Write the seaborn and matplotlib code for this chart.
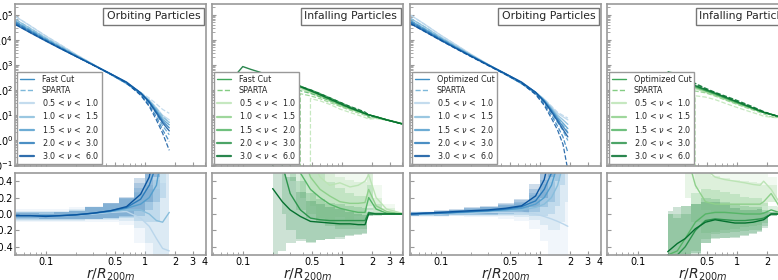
import numpy as np
import matplotlib
matplotlib.use("Agg")
import matplotlib.pyplot as plt
import seaborn as sns
from matplotlib.lines import Line2D
from matplotlib.ticker import NullFormatter, FixedLocator, FixedFormatter

nan = np.nan
inf = np.inf

nu_labels = ["0.5 < $\\nu$ <  1.0", "1.0 < $\\nu$ <  1.5", "1.5 < $\\nu$ <  2.0",
             "2.0 < $\\nu$ <  3.0", "3.0 < $\\nu$ <  6.0"]

# ---- orbiting, fast cut (log10 density, ratio fast/sparta - 1, scatter)
r_orb_fast = [0.05, 0.07, 0.1, 0.14, 0.2, 0.3, 0.45, 0.65, 0.9, 1.1, 1.3, 1.5, 1.75]
fast_orb_logrho = [
    [4.92, 4.55, 4.15, 3.80, 3.42, 3.02, 2.62, 2.25, 1.88, 1.60, 1.28, 0.98, 0.80],
    [4.80, 4.45, 4.07, 3.74, 3.39, 3.01, 2.63, 2.27, 1.88, 1.57, 1.22, 0.90, 0.70],
    [4.72, 4.38, 4.02, 3.70, 3.37, 3.00, 2.63, 2.28, 1.88, 1.55, 1.17, 0.82, 0.60],
    [4.66, 4.33, 3.98, 3.67, 3.35, 3.00, 2.64, 2.30, 1.88, 1.52, 1.12, 0.75, 0.48],
    [4.60, 4.28, 3.95, 3.65, 3.34, 2.99, 2.64, 2.31, 1.88, 1.50, 1.07, 0.68, 0.36],
]
fast_orb_ratio = [
    [-0.02, -0.02, -0.02, -0.02, -0.01, 0.00, 0.02, 0.03, -0.05, -0.15, -0.30, -0.42, -0.45],
    [-0.02, -0.02, -0.02, -0.02, -0.01, 0.005, 0.03, 0.05, 0.05, 0.00, -0.08, -0.10, 0.02],
    [-0.02, -0.02, -0.02, -0.02, -0.01, 0.01, 0.03, 0.07, 0.12, 0.20, 0.35, 0.80, 1.50],
    [-0.02, -0.02, -0.02, -0.02, -0.01, 0.01, 0.04, 0.08, 0.18, 0.35, 0.60, 1.20, 2.50],
    [-0.02, -0.02, -0.03, -0.02, -0.01, 0.01, 0.04, 0.09, 0.24, 0.45, 0.90, 1.60, 5.00],
]
fast_orb_spread = [
    [0.08, 0.08, 0.08, 0.08, 0.09, 0.10, 0.12, 0.16, 0.30, 0.45, 0.60, 0.80, 1.00],
    [0.06, 0.06, 0.06, 0.06, 0.07, 0.08, 0.10, 0.13, 0.22, 0.35, 0.50, 0.70, 0.90],
    [0.05, 0.05, 0.05, 0.05, 0.06, 0.07, 0.09, 0.12, 0.20, 0.30, 0.45, 0.60, 0.80],
    [0.04, 0.04, 0.04, 0.04, 0.05, 0.07, 0.09, 0.12, 0.20, 0.30, 0.45, 0.60, 0.80],
    [0.03, 0.03, 0.03, 0.04, 0.05, 0.07, 0.09, 0.12, 0.20, 0.30, 0.45, 0.60, 0.80],
]

# ---- orbiting, optimized cut
r_orb_opt = [0.05, 0.07, 0.1, 0.14, 0.2, 0.3, 0.45, 0.65, 0.9, 1.1, 1.3, 1.5, 1.7, 1.9]
opt_orb_logrho = [
    [4.98, 4.60, 4.18, 3.82, 3.43, 3.02, 2.62, 2.25, 1.90, 1.62, 1.32, 1.06, 0.92, 0.80],
    [4.85, 4.50, 4.10, 3.76, 3.40, 3.01, 2.63, 2.27, 1.90, 1.60, 1.27, 0.98, 0.80, 0.62],
    [4.76, 4.42, 4.05, 3.72, 3.38, 3.00, 2.63, 2.28, 1.90, 1.58, 1.22, 0.90, 0.67, 0.45],
    [4.70, 4.37, 4.01, 3.69, 3.36, 3.00, 2.64, 2.30, 1.90, 1.55, 1.17, 0.82, 0.53, 0.28],
    [4.64, 4.32, 3.98, 3.67, 3.35, 2.99, 2.64, 2.31, 1.90, 1.53, 1.12, 0.75, 0.42, 0.12],
]
opt_orb_ratio = [
    [0.00, 0.00, 0.00, 0.01, 0.01, 0.02, 0.02, 0.02, 0.00, -0.03, -0.06, -0.09, -0.12, -0.15],
    [0.00, 0.00, 0.01, 0.01, 0.02, 0.03, 0.04, 0.05, 0.08, 0.12, 0.20, 0.35, 0.60, 1.00],
    [0.00, 0.00, 0.01, 0.02, 0.03, 0.04, 0.05, 0.07, 0.12, 0.20, 0.35, 0.60, 1.00, 2.00],
    [0.00, 0.01, 0.01, 0.02, 0.03, 0.04, 0.06, 0.09, 0.16, 0.30, 0.50, 0.90, 1.60, 5.00],
    [0.00, 0.01, 0.02, 0.03, 0.04, 0.05, 0.07, 0.10, 0.22, 0.42, 0.80, 1.30, 3.00, 20.0],
]
opt_orb_spread = [
    [0.04, 0.04, 0.04, 0.04, 0.05, 0.06, 0.08, 0.10, 0.18, 0.30, 0.45, 0.60, 0.75, 0.90],
    [0.03, 0.03, 0.03, 0.04, 0.04, 0.05, 0.07, 0.09, 0.15, 0.25, 0.40, 0.55, 0.70, 0.85],
    [0.03, 0.03, 0.03, 0.03, 0.04, 0.05, 0.06, 0.08, 0.14, 0.22, 0.35, 0.50, 0.65, 0.80],
    [0.02, 0.02, 0.03, 0.03, 0.04, 0.05, 0.06, 0.08, 0.14, 0.22, 0.35, 0.50, 0.65, 0.80],
    [0.02, 0.02, 0.03, 0.03, 0.04, 0.05, 0.06, 0.08, 0.14, 0.22, 0.35, 0.50, 0.65, 0.80],
]

# ---- infalling (inf ratio = no SPARTA particles in that bin)
r_inf = [0.085, 0.1, 0.12, 0.15, 0.2, 0.25, 0.3, 0.38, 0.48, 0.6, 0.75, 0.95,
         1.2, 1.45, 1.7, 1.85, 2.2, 2.8, 4.0]
fast_inf_logrho = [
    [nan, nan, nan, nan, nan, 2.55, 2.25, 2.05, 1.88, 1.72, 1.55, 1.37, 1.22, 1.12, 1.04, 1.00, 0.93, 0.81, 0.66],
    [nan, nan, nan, nan, nan, 2.50, 2.28, 2.10, 1.92, 1.76, 1.58, 1.40, 1.24, 1.13, 1.04, 1.00, 0.92, 0.80, 0.65],
    [nan, nan, nan, nan, nan, 2.45, 2.30, 2.14, 1.97, 1.80, 1.62, 1.44, 1.27, 1.15, 1.05, 1.00, 0.92, 0.80, 0.64],
    [nan, nan, nan, nan, 2.50, 2.42, 2.30, 2.15, 1.98, 1.82, 1.65, 1.47, 1.29, 1.16, 1.05, 1.00, 0.92, 0.80, 0.64],
    [2.60, 2.93, 2.82, 2.70, 2.52, 2.40, 2.27, 2.12, 1.96, 1.80, 1.63, 1.45, 1.28, 1.16, 1.05, 1.00, 0.92, 0.80, 0.64],
]
fast_inf_ratio = [
    [nan, nan, nan, nan, nan, inf, inf, inf, 0.70, 0.45, 0.35, 0.38, 0.33, 0.35, 0.40, 0.48, 0.20, 0.06, 0.01],
    [nan, nan, nan, nan, nan, inf, inf, 0.80, 0.45, 0.30, 0.22, 0.15, 0.13, 0.13, 0.14, 0.30, 0.10, 0.03, 0.00],
    [nan, nan, nan, nan, nan, inf, 1.00, 0.50, 0.30, 0.20, 0.12, 0.07, 0.04, 0.02, 0.02, 0.20, 0.06, 0.01, 0.00],
    [nan, nan, nan, nan, inf, 0.60, 0.25, 0.05, -0.05, -0.07, -0.08, -0.08, -0.08, -0.08, -0.08, 0.02, 0.00, 0.00, 0.00],
    [inf, inf, inf, inf, 0.31, 0.15, 0.05, -0.03, -0.09, -0.10, -0.11, -0.12, -0.12, -0.13, -0.13, 0.00, 0.00, 0.00, 0.00],
]
fast_inf_spread = [
    [nan, nan, nan, nan, nan, nan, nan, nan, 0.60, 0.50, 0.45, 0.42, 0.40, 0.38, 0.36, 0.30, 0.15, 0.06, 0.02],
    [nan, nan, nan, nan, nan, nan, nan, 0.60, 0.45, 0.38, 0.33, 0.30, 0.28, 0.26, 0.25, 0.20, 0.10, 0.04, 0.00],
    [nan, nan, nan, nan, nan, nan, 0.60, 0.45, 0.35, 0.30, 0.27, 0.25, 0.22, 0.20, 0.20, 0.15, 0.06, 0.02, 0.00],
    [nan, nan, nan, nan, nan, 0.60, 0.45, 0.35, 0.30, 0.25, 0.22, 0.20, 0.18, 0.16, 0.15, 0.05, 0.02, 0.00, 0.00],
    [nan, nan, nan, nan, 0.80, 0.60, 0.40, 0.30, 0.25, 0.22, 0.20, 0.18, 0.15, 0.13, 0.12, 0.02, 0.00, 0.00, 0.00],
]

opt_inf_logrho = [
    [nan, nan, nan, nan, nan, 2.20, 2.15, 2.04, 1.90, 1.77, 1.62, 1.47, 1.33, 1.22, 1.13, 1.09, 1.02, 0.90, 0.73],
    [nan, nan, nan, nan, nan, 2.30, 2.20, 2.08, 1.94, 1.80, 1.65, 1.50, 1.35, 1.24, 1.14, 1.10, 1.02, 0.90, 0.72],
    [nan, nan, nan, nan, 2.38, 2.32, 2.24, 2.11, 1.97, 1.83, 1.68, 1.52, 1.37, 1.25, 1.15, 1.10, 1.02, 0.90, 0.72],
    [nan, nan, nan, nan, 2.42, 2.35, 2.27, 2.14, 1.99, 1.85, 1.70, 1.54, 1.38, 1.26, 1.15, 1.10, 1.02, 0.90, 0.72],
    [nan, nan, nan, nan, 2.45, 2.38, 2.30, 2.17, 2.02, 1.87, 1.72, 1.56, 1.40, 1.27, 1.16, 1.10, 1.02, 0.90, 0.72],
]
opt_inf_ratio = [
    [nan, nan, nan, nan, nan, inf, inf, 0.90, 0.55, 0.45, 0.42, 0.40, 0.38, 0.36, 0.35, 0.40, 0.30, 0.10, 0.03],
    [nan, nan, nan, nan, nan, inf, 0.80, 0.35, 0.15, 0.12, 0.12, 0.12, 0.12, 0.12, 0.12, 0.15, 0.25, 0.05, 0.00],
    [nan, nan, nan, nan, -0.50, -0.45, -0.30, -0.10, 0.00, 0.02, 0.02, 0.01, 0.00, 0.00, 0.00, 0.01, 0.05, 0.01, 0.00],
    [nan, nan, nan, nan, -0.50, -0.50, -0.40, -0.20, -0.08, -0.06, -0.07, -0.08, -0.08, -0.07, -0.06, -0.05, 0.00, 0.00, 0.00],
    [nan, nan, nan, nan, -0.46, -0.36, -0.30, -0.18, -0.10, -0.07, -0.09, -0.11, -0.11, -0.10, -0.08, -0.07, 0.00, 0.00, 0.00],
]
opt_inf_spread = [
    [nan, nan, nan, nan, nan, nan, nan, 0.60, 0.50, 0.45, 0.42, 0.40, 0.38, 0.36, 0.35, 0.30, 0.15, 0.06, 0.02],
    [nan, nan, nan, nan, nan, nan, 0.60, 0.45, 0.38, 0.34, 0.32, 0.30, 0.28, 0.27, 0.26, 0.20, 0.10, 0.03, 0.00],
    [nan, nan, nan, nan, 0.50, 0.45, 0.40, 0.35, 0.30, 0.27, 0.25, 0.23, 0.21, 0.20, 0.19, 0.12, 0.05, 0.01, 0.00],
    [nan, nan, nan, nan, 0.50, 0.45, 0.40, 0.32, 0.27, 0.24, 0.22, 0.20, 0.18, 0.16, 0.15, 0.10, 0.03, 0.00, 0.00],
    [nan, nan, nan, nan, 0.50, 0.45, 0.40, 0.30, 0.25, 0.22, 0.20, 0.18, 0.16, 0.15, 0.14, 0.10, 0.02, 0.00, 0.00],
]

panels = [
    ("Orbiting Particles", "Fast Cut", "Blues", r_orb_fast, fast_orb_logrho, fast_orb_ratio, fast_orb_spread),
    ("Infalling Particles", "Fast Cut", "Greens", r_inf, fast_inf_logrho, fast_inf_ratio, fast_inf_spread),
    ("Orbiting Particles", "Optimized Cut", "Blues", r_orb_opt, opt_orb_logrho, opt_orb_ratio, opt_orb_spread),
    ("Infalling Particles", "Optimized Cut", "Greens", r_inf, opt_inf_logrho, opt_inf_ratio, opt_inf_spread),
]

sns.set_style("ticks")
plt.rcParams["font.family"] = ["DejaVu Sans"]
plt.rcParams["xtick.direction"] = "in"
plt.rcParams["ytick.direction"] = "in"
plt.rcParams["axes.edgecolor"] = "#999999"
plt.rcParams["axes.linewidth"] = 1.2
plt.rcParams["xtick.color"] = "#999999"
plt.rcParams["ytick.color"] = "#999999"
plt.rcParams["xtick.labelcolor"] = "black"
plt.rcParams["ytick.labelcolor"] = "black"

W, H = 778, 280
fig = plt.figure(figsize=(W / 100, H / 100), dpi=100)
lefts = [15, 212, 410, 607]
pw = 191

for i, (title, cut, cmap, r, logrho, ratio, spread) in enumerate(panels):
    ax_t = fig.add_axes([lefts[i] / W, 1 - 166 / H, pw / W, 162 / H])
    ax_b = fig.add_axes([lefts[i] / W, 1 - 255 / H, pw / W, 82 / H])
    cols = sns.color_palette(cmap, 6)[1:]
    main_col = sns.color_palette(cmap, 10)[6]
    spa_col = sns.color_palette(cmap, 10)[4]
    r = np.array(r)

    for k in range(5):
        rho = 10 ** np.array(logrho[k])
        rat = np.array(ratio[k])
        spa = rho / (1 + rat)
        sns.lineplot(x=r, y=rho, ax=ax_t, color=cols[k], lw=1.0, alpha=0.85,
                     estimator=None, sort=False)
        ok = ~np.isnan(spa)
        ax_t.plot(r[ok], spa[ok], color=cols[k], lw=0.9, ls="--", alpha=0.85)

        med = np.where(np.isfinite(rat), rat, nan)
        sp = np.array(spread[k])
        ax_b.fill_between(r, med - sp, med + sp, color=cols[k], alpha=0.2, lw=0, step="mid")
        sns.lineplot(x=r, y=med, ax=ax_b, color=cols[k], lw=1.0, estimator=None, sort=False)

    ax_t.set_yscale("log")
    ax_t.set_ylim(0.09, 2.7e5)
    for ax in (ax_t, ax_b):
        ax.set_xscale("log")
        ax.set_xlim(0.049, 4.1)
        ax.xaxis.set_major_locator(FixedLocator([0.1, 0.5, 1, 2, 3, 4]))
        ax.xaxis.set_major_formatter(FixedFormatter(["0.1", "0.5", "1", "2", "3", "4"]))
        ax.xaxis.set_minor_formatter(NullFormatter())
        ax.tick_params(which="both", labelsize=7, length=3, pad=1.5)
        ax.tick_params(which="minor", length=2)
        ax.set_xlabel("")
        ax.set_ylabel("")
    ax_t.tick_params(axis="x", labelbottom=False)
    ax_b.set_ylim(-0.5, 0.5)
    ax_b.set_yticks([-0.4, -0.2, 0.0, 0.2, 0.4])
    ax_b.set_yticklabels(["-0.4", "-0.2", "0.0", "0.2", "0.4"])
    ax_b.set_xlabel("$r/R_{200m}$", fontsize=10, labelpad=0)
    if i > 0:
        ax_t.tick_params(axis="y", which="both", labelleft=False)
        ax_b.tick_params(axis="y", labelleft=False)

    ax_t.text(0.97, 0.955, title, transform=ax_t.transAxes, ha="right", va="top",
              fontsize=7.8, bbox=dict(boxstyle="square,pad=0.3", fc="white", ec="#777777", lw=1))

    handles = [Line2D([], [], color=main_col, lw=1.0),
               Line2D([], [], color=spa_col, lw=1.0, ls="--")]
    handles += [Line2D([], [], color=cols[k], lw=1.6, alpha=0.85) for k in range(5)]
    leg = ax_t.legend(handles, [cut, "SPARTA"] + nu_labels, loc="lower left", fontsize=5.8,
                      labelspacing=0.28, handlelength=1.8, handletextpad=0.9, borderpad=0.35,
                      borderaxespad=0.25, fancybox=False, edgecolor="#999999", framealpha=1)
    leg.get_frame().set_linewidth(1.0)

fig.savefig("out.png", dpi=100)
